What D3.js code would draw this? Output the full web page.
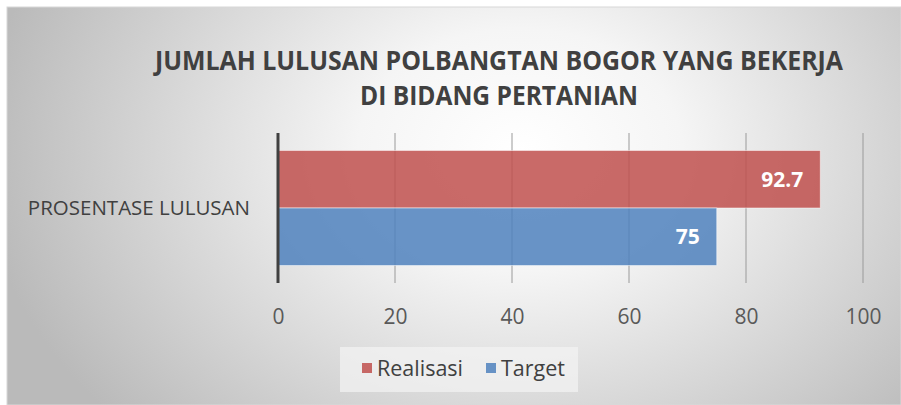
<!DOCTYPE html>
<html lang="id">
<head>
<meta charset="UTF-8">
<title>Jumlah Lulusan Polbangtan Bogor</title>
<script src="https://d3js.org/d3.v7.min.js"></script>
<style>
    body { margin: 0; background: #ffffff; font-family: 'Open Sans', sans-serif; }
    svg { display: block; }
    .tick-label { font-size: 21px; fill: #595959; }
</style>
</head>
<body>
<div id="chart"></div>
<script>
const titleLines = ["JUMLAH LULUSAN POLBANGTAN BOGOR YANG BEKERJA", "DI BIDANG PERTANIAN"];
const categories = ["PROSENTASE LULUSAN"];
const seriesNames = ["Realisasi", "Target"];
const seriesValues = [92.7, 75];
const seriesColors = ["#c0504d", "#4f81bd"];
const xTicks = [0, 20, 40, 60, 80, 100];

const W = 901, H = 405;
const svg = d3.select("#chart").append("svg").attr("width", W).attr("height", H);

// radial background like the office chart style
const defs = svg.append("defs");
const grad = defs.append("radialGradient").attr("id", "bg")
    .attr("gradientUnits", "userSpaceOnUse")
    .attr("cx", 520).attr("cy", 150).attr("r", 540)
    .attr("gradientTransform", "translate(520,150) scale(1,0.75) translate(-520,-150)");
grad.append("stop").attr("offset", "0%").attr("stop-color", "#ffffff");
grad.append("stop").attr("offset", "30%").attr("stop-color", "#f5f5f5");
grad.append("stop").attr("offset", "100%").attr("stop-color", "#bababa");

svg.append("rect").attr("x", 7).attr("y", 7).attr("width", W - 7).attr("height", H - 7)
    .attr("fill", "url(#bg)").attr("stroke", "#d8d8d8").attr("stroke-width", 1);

// title
const title = svg.append("g").attr("font-weight", "bold").attr("fill", "#404040")
    .attr("font-size", 27).attr("text-anchor", "middle");
title.append("text").attr("x", 499).attr("y", 70).attr("textLength", 688)
    .attr("lengthAdjust", "spacingAndGlyphs").text(titleLines[0]);
title.append("text").attr("x", 499).attr("y", 105).attr("textLength", 278)
    .attr("lengthAdjust", "spacingAndGlyphs").text(titleLines[1]);

// scales
const x = d3.scaleLinear().domain([0, 100]).range([278, 863]);
const yCat = d3.scaleBand().domain(categories).range([133, 283]).paddingOuter(0.152);
const ySer = d3.scaleBand().domain(seriesNames).range([0, yCat.bandwidth()]);

// gridlines
svg.append("g").selectAll("line").data(xTicks.slice(1)).join("line")
    .attr("x1", d => x(d)).attr("x2", d => x(d))
    .attr("y1", 133).attr("y2", 283)
    .attr("stroke", "#9a9a9a").attr("stroke-width", 1);

// bars
const bars = svg.append("g").attr("transform", `translate(0,${yCat(categories[0])})`);
bars.selectAll("rect").data(seriesNames).join("rect")
    .attr("x", x(0)).attr("y", d => ySer(d))
    .attr("width", (d, i) => x(seriesValues[i]) - x(0))
    .attr("height", ySer.bandwidth())
    .attr("fill", (d, i) => seriesColors[i]).attr("fill-opacity", 0.85)
    .attr("stroke", "#ffffff").attr("stroke-opacity", 0.5).attr("stroke-width", 1);

bars.selectAll("text").data(seriesNames).join("text")
    .attr("x", (d, i) => x(seriesValues[i]) - 17)
    .attr("y", d => ySer(d) + ySer.bandwidth() / 2)
    .attr("dy", "0.36em").attr("text-anchor", "end")
    .attr("fill", "#ffffff").attr("font-weight", "bold").attr("font-size", 21)
    .text((d, i) => seriesValues[i]);

// category axis line
svg.append("line").attr("x1", x(0)).attr("x2", x(0)).attr("y1", 133).attr("y2", 283)
    .attr("stroke", "#404040").attr("stroke-width", 3);

svg.append("text").attr("x", 250).attr("y", yCat(categories[0]) + yCat.bandwidth() / 2)
    .attr("dy", "0.36em").attr("text-anchor", "end")
    .attr("font-size", 20.5).attr("fill", "#404040").text(categories[0]);

// value axis labels
const xAxis = d3.axisBottom(x).tickValues(xTicks).tickSize(0).tickPadding(0);
const gx = svg.append("g").attr("transform", "translate(0,324)").call(xAxis);
gx.select(".domain").remove();
gx.selectAll("text").attr("class", "tick-label").attr("y", 0).attr("dy", 0)
    .style("font-family", "'Open Sans', sans-serif");

// legend
const legend = svg.append("g");
legend.append("rect").attr("x", 340).attr("y", 347).attr("width", 238).attr("height", 45)
    .attr("fill", "#f4f4f4").attr("fill-opacity", 0.7);
const legX = [362, 486];
seriesNames.forEach((s, i) => {
    legend.append("rect").attr("x", legX[i]).attr("y", 363).attr("width", 10).attr("height", 10)
        .attr("fill", seriesColors[i]).attr("fill-opacity", 0.85);
    legend.append("text").attr("x", legX[i] + 15).attr("y", 368).attr("dy", "0.36em")
        .attr("font-size", 21.5).attr("fill", "#404040").text(s);
});
</script>
</body>
</html>
